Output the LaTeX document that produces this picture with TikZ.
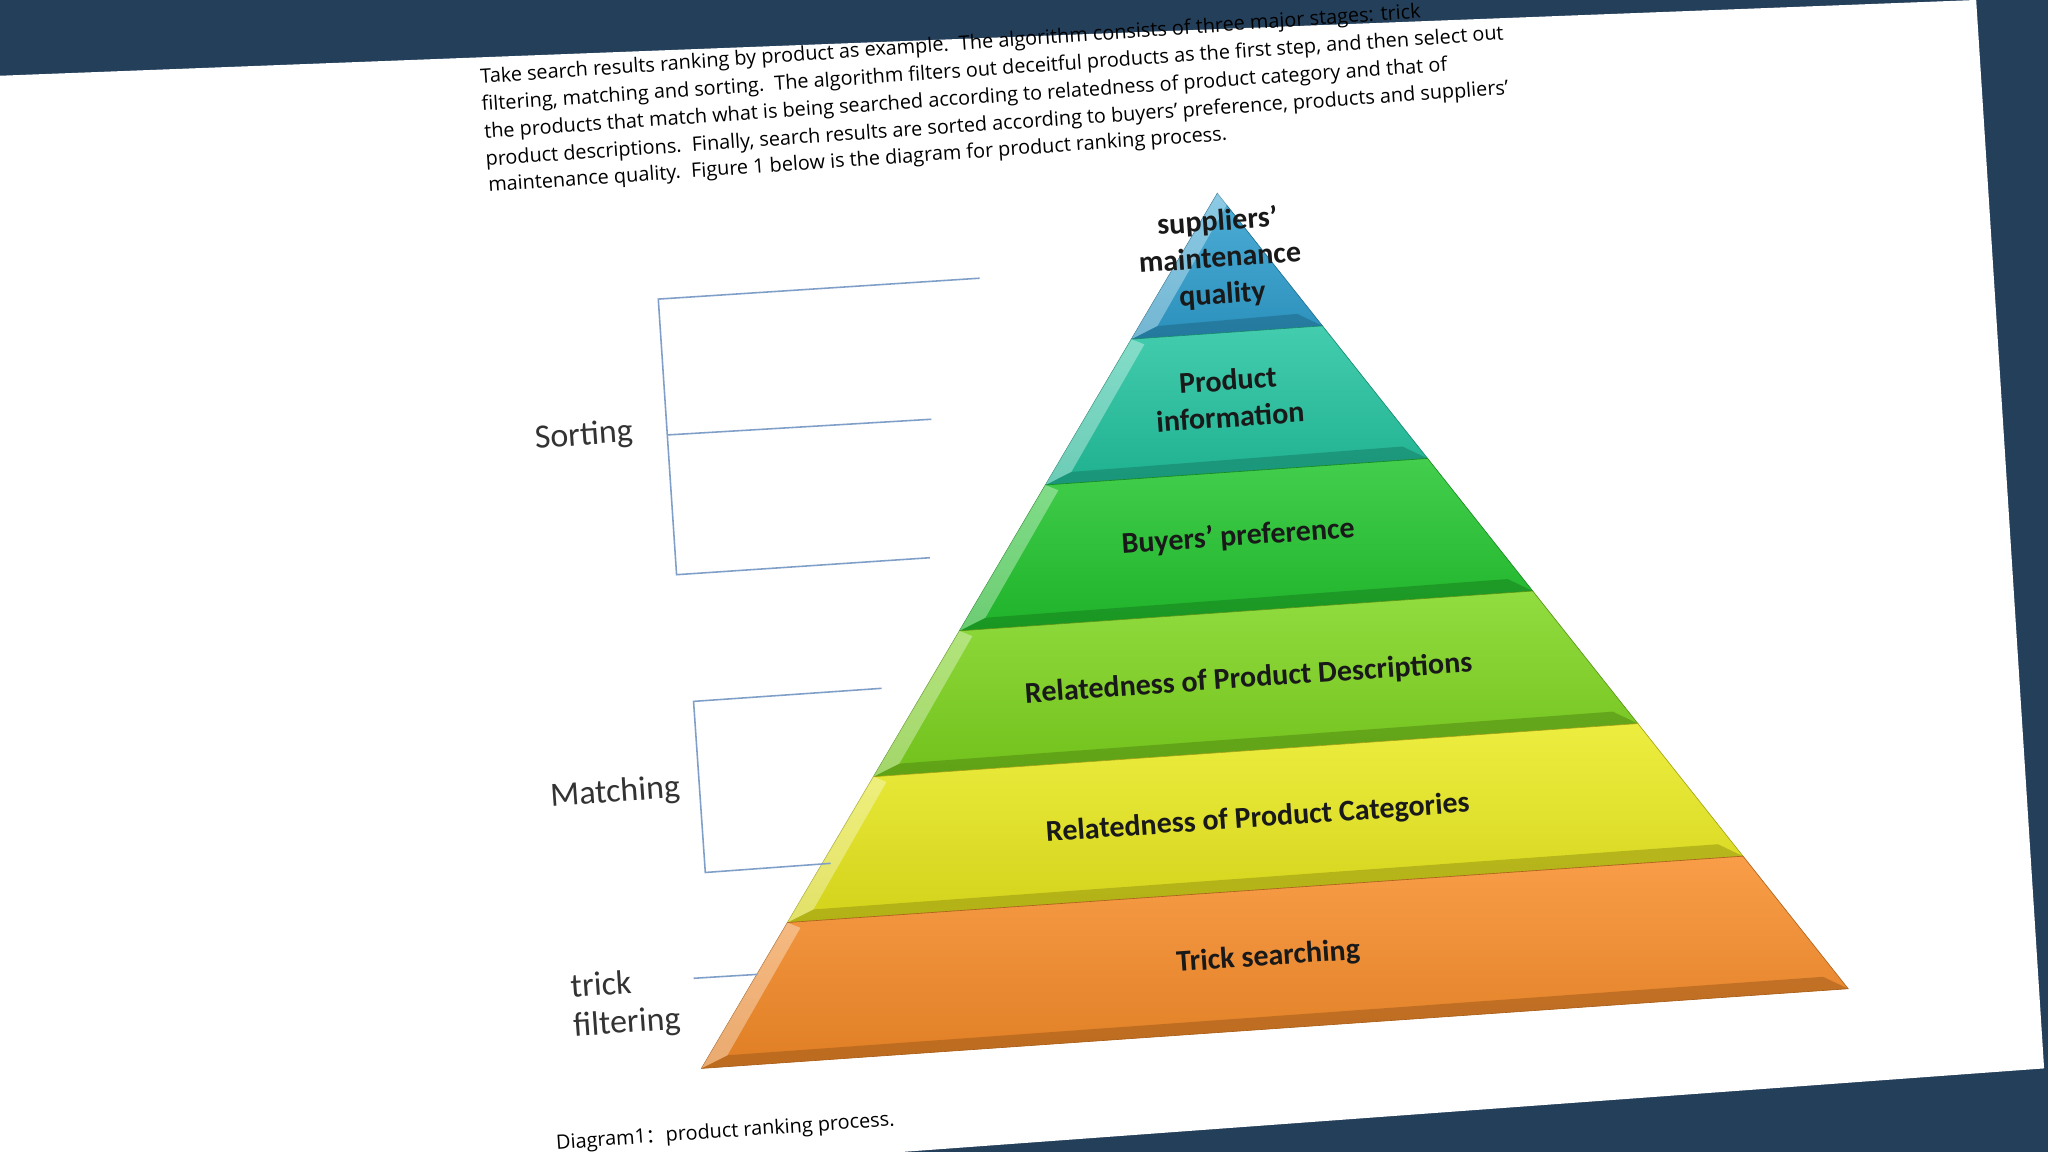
\documentclass[tikz,border=0pt]{standalone}
\usepackage{fontspec}
\setmainfont{Carlito}
\newfontfamily\parfont{Open Sans}
\newfontfamily\cjk{Noto Sans CJK SC}
\usetikzlibrary{calc}
\definecolor{bgblue}{HTML}{243F5A}
\definecolor{brk}{HTML}{7F9FC8}
\definecolor{c1}{HTML}{2FA0D0}
\definecolor{c2}{HTML}{22C4A0}
\definecolor{c3}{HTML}{22C62E}
\definecolor{c4}{HTML}{7ED61E}
\definecolor{c5}{HTML}{EAEA1E}
\definecolor{c6}{HTML}{F88C28}
\tikzset{
 partxt/.style={anchor=base west,rotate=4,inner sep=0pt,font=\parfont\fontsize{15.2}{17}\selectfont},
 layertxt/.style={rotate=4,align=center,inner sep=1pt,font=\bfseries\fontsize{23}{28}\selectfont,text=black!90},
 sidetxt/.style={rotate=4,align=left,font=\fontsize{26}{30}\selectfont,text=black!80},
 brkline/.style={draw=brk,line width=1.2pt}
}
\begin{document}
\begin{tikzpicture}[x=1pt,y=-1pt]
\useasboundingbox (0,0) rectangle (1568,882);
\fill[bgblue] (0,0) rectangle (1568,882);
\fill[white] (0,58) -- (1513,0) -- (1565,818) -- (690,882) -- (0,882) -- cycle;
% paragraph
\node[partxt] (p1) at (368,64) {Take search results ranking by product as example.\ \ The algorithm consists of three major stages: trick};
\node[partxt] (p2) at (369,85) {filtering, matching and sorting.\ \ The algorithm filters out deceitful products as the first step, and then select out};
\node[partxt] (p3) at (371,106) {the products that match what is being searched according to relatedness of product category and that of};
\node[partxt] (p4) at (372,127) {product descriptions.\ \ Finally, search results are sorted according to buyers’ preference, products and suppliers’};
\node[partxt] (p5) at (374,147) {maintenance quality.\ \ Figure 1 below is the diagram for product ranking process.};
\node[partxt] (cap) at (426,880) {Diagram1{\cjk ：}product ranking process.};
% pyramid
\coordinate (A) at (932,148);
\coordinate (L) at (537,818);
\coordinate (R) at (1415,757);
\foreach \k/\c in {1/c1,2/c2,3/c3,4/c4,5/c5,6/c6}{
  \pgfmathsetmacro{\ta}{(\k-1)/6}
  \pgfmathsetmacro{\tb}{\k/6}
  \shade[top color=\c!85!white,bottom color=\c!90!black,draw=\c!70!black,line width=0.5pt]
    ($(A)!\ta!(L)$) -- ($(A)!\tb!(L)$) -- ($(A)!\tb!(R)$) -- ($(A)!\ta!(R)$) -- cycle;
  \fill[\c!65!black,opacity=0.55] ($(A)!\tb!(L)$) -- ($(A)!\tb!(R)$) -- ($(A)!\tb-0.015!(R)+(-12,0)$) -- ($(A)!\tb-0.015!(L)+(14,0)$) -- cycle;
  \fill[white,opacity=0.35] ($(A)!\ta!(L)$) -- ($(A)!\tb!(L)$) -- ($(A)!\tb-0.015!(L)+(14,0)$) -- ($(A)!\ta!(L)+(10,4)$) -- cycle;
}
\node[layertxt] (t1) at (934,198) {suppliers’\\maintenance\\quality};
\node[layertxt] (t2) at (941,305) {Product\\information};
\node[layertxt] (t3) at (948,411) {Buyers’ preference};
\node[layertxt] (t4) at (956,520) {Relatedness of Product Descriptions};
\node[layertxt] (t5) at (963,627) {Relatedness of Product Categories};
\node[layertxt] (t6) at (971,733) {Trick searching};
% brackets
\coordinate (s1) at (504,229); \coordinate (s1e) at (750,213);
\coordinate (s2) at (511,333); \coordinate (s2e) at (713,321);
\coordinate (s3) at (518,440); \coordinate (s3e) at (712,427);
\draw[brkline] (s1e) -- (s1) -- (s3) -- (s3e);
\draw[brkline] (s2) -- (s2e);
\coordinate (m1) at (531,537); \coordinate (m1e) at (675,527);
\coordinate (m2) at (540,668); \coordinate (m2e) at (636,661);
\draw[brkline] (m1e) -- (m1) -- (m2) -- (m2e);
\coordinate (f1) at (531,749); \coordinate (f1e) at (580,746);
\draw[brkline] (f1) -- (f1e);
\node[sidetxt] (sort) at (447,334) {Sorting};
\node[sidetxt] (match) at (471,607) {Matching};
\node[sidetxt] (trick) at (479,769) {trick\\filtering};
\end{tikzpicture}
\end{document}
